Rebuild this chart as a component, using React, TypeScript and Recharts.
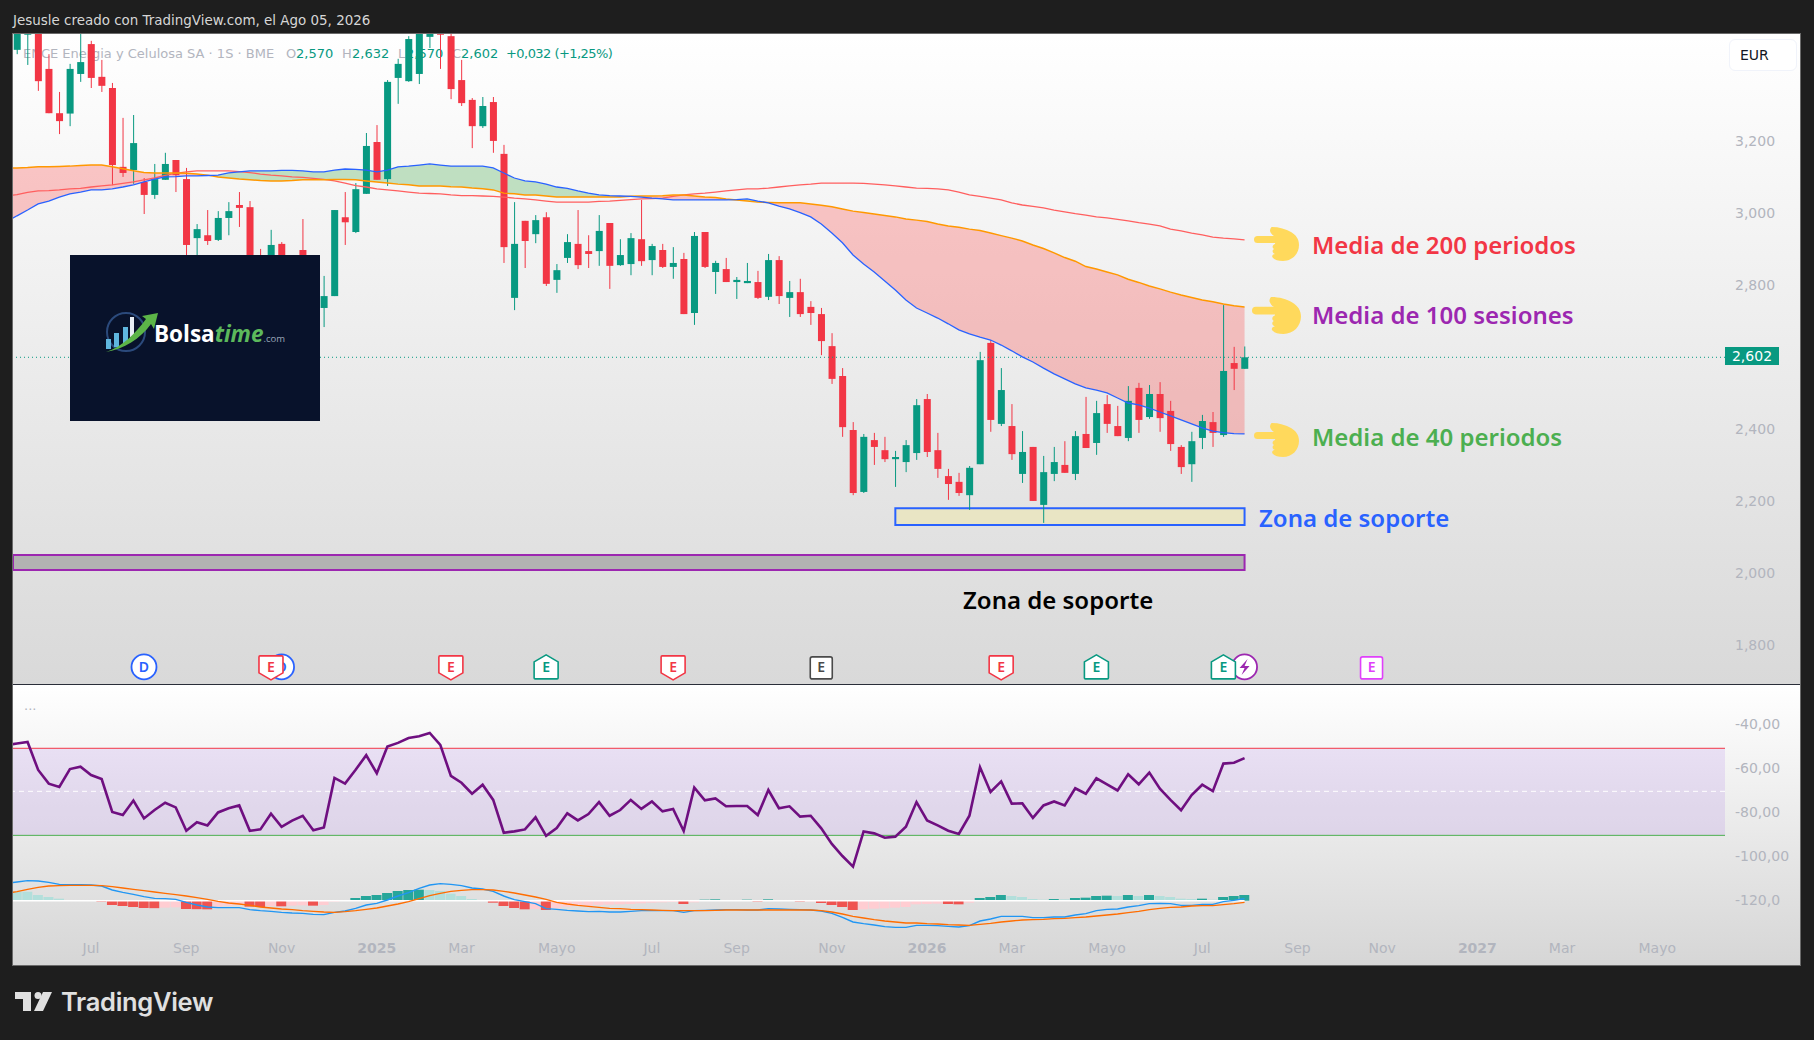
import { ComposedChart, Bar, Line, Area, Scatter, Cell, XAxis, YAxis, ReferenceArea, ReferenceLine } from "recharts";

const opens = [
  3.456,3.498,3.56,3.403,3.28,3.279,3.389,3.472,3.381,3.35,
  3.131,3.122,3.089,3.053,3.095,3.15,3.097,2.933,2.941,2.928,
  2.989,3.025,3.019,2.87,2.78,2.917,2.82,2.9,2.78,2.739,
  2.772,2.991,2.95,3.056,3.2,3.097,3.378,3.369,3.389,3.492,
  3.56,3.494,3.372,3.317,3.244,3.311,3.167,2.767,2.981,2.944,
  2.991,2.817,2.878,2.917,2.897,2.897,2.975,2.858,2.861,2.93,
  2.872,2.9,2.853,2.875,2.725,2.95,2.839,2.847,2.811,2.808,
  2.811,2.77,2.872,2.767,2.783,2.742,2.722,2.633,2.55,2.4,
  2.228,2.372,2.344,2.319,2.311,2.336,2.486,2.344,2.272,2.256,
  2.219,2.305,2.642,2.417,2.411,2.278,2.353,2.192,2.278,2.303,
  2.278,2.389,2.364,2.472,2.411,2.378,2.517,2.436,2.5,2.453,
  2.353,2.305,2.378,2.422,2.386,2.586,2.57,
];
const highs = [
  3.56,3.6,3.6,3.444,3.339,3.417,3.5,3.481,3.428,3.364,
  3.267,3.275,3.1,3.139,3.17,3.15,3.128,2.972,3.011,3.008,
  3.033,3.061,3.036,2.903,2.956,2.922,2.85,2.986,2.82,2.828,
  3.011,3.061,3.086,3.225,3.247,3.372,3.431,3.494,3.55,3.55,
  3.58,3.5,3.428,3.322,3.325,3.325,3.192,3.033,2.981,2.997,
  3.005,2.861,2.944,3.011,2.941,2.997,2.975,2.93,2.947,3.039,
  2.917,2.917,2.908,2.892,2.95,2.95,2.87,2.878,2.825,2.864,
  2.842,2.889,2.883,2.814,2.82,2.758,2.739,2.669,2.572,2.422,
  2.389,2.392,2.381,2.342,2.372,2.486,2.5,2.392,2.292,2.281,
  2.3,2.617,2.65,2.572,2.472,2.397,2.353,2.328,2.353,2.369,
  2.397,2.492,2.481,2.497,2.467,2.522,2.531,2.525,2.533,2.481,
  2.358,2.395,2.442,2.45,2.747,2.631,2.632,
];
const lows = [
  3.444,3.414,3.342,3.28,3.222,3.244,3.367,3.35,3.339,3.08,
  3.103,3.084,3.0,3.042,3.095,3.061,2.88,2.88,2.914,2.925,
  2.941,2.964,2.76,2.76,2.75,2.79,2.72,2.74,2.69,2.686,
  2.772,2.914,2.947,3.056,3.095,3.078,3.306,3.367,3.361,3.461,
  3.403,3.319,3.3,3.183,3.239,3.17,2.864,2.733,2.85,2.919,
  2.8,2.781,2.864,2.847,2.85,2.856,2.792,2.856,2.83,2.856,
  2.83,2.85,2.82,2.722,2.692,2.85,2.778,2.811,2.764,2.808,
  2.764,2.761,2.75,2.714,2.714,2.692,2.608,2.528,2.381,2.219,
  2.225,2.303,2.311,2.242,2.283,2.317,2.325,2.267,2.206,2.217,
  2.178,2.305,2.395,2.411,2.317,2.253,2.203,2.142,2.258,2.281,
  2.261,2.35,2.331,2.392,2.383,2.369,2.392,2.431,2.395,2.342,
  2.278,2.256,2.347,2.353,2.381,2.511,2.57,
];
const closes = [
  3.53,3.55,3.369,3.28,3.258,3.403,3.422,3.378,3.356,3.136,
  3.114,3.197,3.053,3.097,3.139,3.108,2.914,2.958,2.925,2.989,
  3.008,3.017,2.78,2.8,2.914,2.82,2.75,2.78,2.72,2.772,
  3.011,2.977,3.069,3.189,3.095,3.367,3.417,3.486,3.52,3.52,
  3.498,3.347,3.308,3.244,3.3,3.203,2.908,2.917,2.925,2.983,
  2.806,2.844,2.922,2.858,2.889,2.953,2.856,2.886,2.933,2.869,
  2.911,2.853,2.864,2.722,2.939,2.853,2.864,2.811,2.817,2.814,
  2.767,2.872,2.772,2.783,2.722,2.725,2.647,2.542,2.408,2.225,
  2.381,2.353,2.319,2.325,2.358,2.469,2.339,2.292,2.25,2.225,
  2.295,2.594,2.428,2.511,2.333,2.339,2.203,2.283,2.311,2.281,
  2.383,2.35,2.447,2.417,2.383,2.481,2.428,2.5,2.433,2.361,
  2.297,2.369,2.425,2.392,2.564,2.57,2.602,
];

// moving averages, first value is the bar just left of the frame
const ma40 = [
  2.978,2.995,3.011,3.028,3.036,3.047,3.056,3.061,3.067,3.067,3.07,
  3.075,3.081,3.089,3.097,3.103,3.104,3.106,3.106,3.107,3.108,
  3.114,3.117,3.12,3.12,3.12,3.121,3.121,3.12,3.117,3.117,
  3.122,3.125,3.124,3.122,3.117,3.122,3.131,3.133,3.136,3.139,
  3.136,3.133,3.133,3.133,3.133,3.128,3.114,3.1,3.092,3.089,
  3.083,3.075,3.071,3.064,3.058,3.053,3.051,3.05,3.049,3.047,
  3.044,3.042,3.039,3.039,3.039,3.039,3.039,3.039,3.04,3.042,
  3.036,3.031,3.022,3.014,3.004,2.992,2.972,2.947,2.92,2.886,
  2.861,2.839,2.814,2.789,2.761,2.739,2.725,2.711,2.695,2.678,
  2.667,2.658,2.65,2.636,2.62,2.603,2.589,2.572,2.556,2.542,
  2.528,2.517,2.511,2.503,2.489,2.475,2.47,2.461,2.45,2.439,
  2.428,2.417,2.406,2.397,2.393,2.39,2.389,
];
const ma100 = [
  3.127,3.128,3.129,3.131,3.131,3.132,3.133,3.135,3.136,3.136,3.131,
  3.126,3.12,3.115,3.114,3.114,3.114,3.113,3.111,3.108,3.103,
  3.1,3.097,3.095,3.093,3.092,3.092,3.093,3.095,3.095,3.095,
  3.096,3.096,3.095,3.092,3.089,3.086,3.083,3.081,3.078,3.078,
  3.078,3.076,3.075,3.072,3.07,3.067,3.058,3.056,3.053,3.053,
  3.05,3.047,3.047,3.047,3.047,3.047,3.047,3.047,3.049,3.05,
  3.05,3.051,3.053,3.053,3.05,3.047,3.046,3.042,3.039,3.036,
  3.033,3.032,3.031,3.031,3.031,3.028,3.024,3.02,3.014,3.008,
  3.004,3.0,2.996,2.992,2.986,2.983,2.979,2.972,2.967,2.963,
  2.958,2.954,2.947,2.94,2.933,2.925,2.914,2.904,2.892,2.879,
  2.869,2.854,2.847,2.839,2.831,2.819,2.81,2.8,2.792,2.783,
  2.775,2.768,2.761,2.756,2.75,2.745,2.742,
];
const ma200 = [
  3.05,3.054,3.06,3.064,3.065,3.067,3.07,3.071,3.075,3.078,3.081,
  3.085,3.089,3.095,3.1,3.107,3.113,3.117,3.12,3.12,3.12,
  3.12,3.118,3.115,3.111,3.108,3.106,3.103,3.102,3.099,3.096,
  3.092,3.086,3.079,3.075,3.07,3.067,3.064,3.061,3.058,3.057,
  3.056,3.053,3.051,3.051,3.05,3.049,3.047,3.044,3.042,3.039,
  3.036,3.033,3.033,3.033,3.033,3.035,3.036,3.038,3.04,3.042,
  3.043,3.044,3.049,3.053,3.056,3.058,3.061,3.064,3.067,3.07,
  3.07,3.072,3.075,3.078,3.081,3.083,3.086,3.086,3.086,3.086,
  3.085,3.083,3.081,3.078,3.075,3.072,3.071,3.07,3.067,3.061,
  3.053,3.049,3.044,3.039,3.031,3.025,3.021,3.017,3.011,3.006,
  3.001,2.997,2.992,2.989,2.985,2.981,2.976,2.972,2.967,2.958,
  2.953,2.947,2.942,2.936,2.933,2.931,2.928,
];

// lower pane, first value again sits just left of the frame
const rsi = [
  -49.6,-48.9,-48.2,-60.9,-67.1,-68.6,-60.5,-59.4,-63.2,-65,-80,
  -81.4,-74.8,-82.9,-79.1,-75.8,-77.9,-88.5,-84.6,-86.1,-80.2,
  -78.3,-77,-88.5,-87.9,-80.8,-86.7,-83.9,-81.7,-88.3,-87,
  -64.5,-67.1,-60.8,-54.2,-62.4,-50.3,-48.6,-46.4,-45.6,-44.1,
  -49.5,-63.6,-66.7,-71.7,-67.6,-74.5,-89.4,-88.8,-87.9,-82.4,
  -90.8,-87.3,-80.6,-83.8,-80.9,-75.5,-81.7,-79.1,-74.5,-78.6,
  -75.2,-79.7,-78.6,-88.6,-68.9,-74.7,-73.8,-77.4,-77.3,-77.3,
  -81.4,-70,-78.3,-77.4,-82.1,-81.7,-87.4,-94.5,-100,-104.8,
  -88.8,-89.7,-91.7,-91.2,-86.7,-75.5,-83.8,-86.1,-88.5,-90,
  -81.7,-59.7,-70.9,-66.1,-76.2,-76.1,-82.7,-77,-75.2,-77,
  -69.2,-71.7,-64.7,-67.4,-70.2,-62.9,-67.4,-62.1,-69.4,-74.5,
  -79.2,-72.3,-67.6,-70.5,-58,-57.6,-55.5,
];
const macdLine = [
  52,56,60,59,55,49,48,48,47,44,32,
  25,19,12,7,6,4,-5,-13,-19,-21,
  -21,-21,-27,-30,-32,-35,-37,-38,-41,-42,
  -35,-31,-23,-13,-8,2,14,24,37,47,
  51,49,45,38,35,28,14,3,-3,-9,
  -24,-26,-29,-31,-33,-32,-34,-34,-32,-30,
  -30,-30,-30,-35,-30,-29,-28,-27,-27,-28,
  -28,-24,-25,-26,-27,-28,-31,-38,-50,-64,
  -69,-73,-78,-80,-80,-74,-74,-75,-77,-79,
  -75,-61,-55,-47,-47,-47,-51,-51,-49,-49,
  -43,-39,-30,-26,-25,-19,-15,-9,-8,-9,
  -14,-14,-11,-11,-3,1,6,
];
const macdSignal = [
  22,27,34,40,44,45,46,46,46,45,42,
  38,34,30,26,22,18,14,9,4,-2,
  -7,-10,-14,-19,-22,-25,-27,-30,-32,-34,
  -35,-33,-30,-26,-22,-16,-10,-3,6,15,
  22,28,31,33,33,32,28,23,17,11,
  4,-5,-10,-14,-17,-20,-23,-24,-26,-27,
  -28,-29,-30,-30,-30,-30,-29,-28,-28,-28,
  -28,-28,-28,-28,-28,-28,-30,-34,-40,-47,
  -52,-57,-61,-64,-67,-67,-69,-70,-72,-73,
  -74,-71,-68,-64,-61,-58,-57,-56,-54,-53,
  -51,-49,-46,-43,-40,-36,-32,-27,-23,-20,
  -19,-16,-15,-15,-12,-9,-5,
];
const macdHist = [
  27,27,17,11,6,2,1,1,-3,-13,
  -16,-19,-22,-22.5,-21,-20,-25,-25.5,-26,-18,
  -15,-13,-18,-19,-16,-17,-15,-14,-15,-13,
  -3,2,8,14,17,23,29,32,33,32,
  29,21,14,5,1,-6,-16,-22,-26,-25,
  -28,-23,-18,-16,-15,-13,-12,-11,-10,-8,
  -6,-5,-4,-10,-5,3,4,2,1,3,
  -3,4,1,1,-3,-2.5,-7,-13,-19,-28,
  -26,-24,-23,-21,-19,-11,-10,-9,-10,-11,
  -6,8,11,17,14,11,5,3,5,4,
  8,9,14,15,14,17,14,17,14,11,
  6,5,6,3,11,14,17,
];

const priceTicks = [1.8, 2.0, 2.2, 2.4, 2.8, 3.0, 3.2];
const rsiTicks = [-40, -60, -80, -100, -120];
const timeTicks = [7, 16, 25, 34, 42, 51, 60, 68, 77, 86, 94, 103, 112, 121, 129, 138, 146, 155];
const timeLabels = ["Jul", "Sep", "Nov", "2025", "Mar", "Mayo", "Jul", "Sep", "Nov", "2026", "Mar", "Mayo", "Jul", "Sep", "Nov", "2027", "Mar", "Mayo"];

const eventBars = [12, 25, 24, 41, 50, 62, 76, 93, 102, 116, 114, 128];
const eventKinds = ["div", "div", "miss", "miss", "beat", "miss", "flat", "miss", "beat", "split", "beat", "next"];

const lastClose = 2.602;
const barSpan = [-0.378, 161.4];
const priceSpan = [1.6945, 3.5];
const rsiSpan = [-149.5, -22.3];
const macdSpan = [-193, 647];

const UP = "#089981";
const DOWN = "#f23645";
const AXIS_TEXT = "#b2b5be";
const FONT = "'DejaVu Sans', sans-serif";

const bars = opens.map((o, i) => ({
  i,
  o,
  h: highs[i],
  l: lows[i],
  c: closes[i],
  range: [lows[i], highs[i]],
  ma40: ma40[i + 1],
  ma100: ma100[i + 1],
  ma200: ma200[i + 1],
  redBand: [ma40[i + 1], Math.max(ma40[i + 1], ma100[i + 1])],
  greenBand: [ma100[i + 1], Math.max(ma40[i + 1], ma100[i + 1])],
}));
const mainRows = [
  {
    i: -1,
    ma40: ma40[0],
    ma100: ma100[0],
    ma200: ma200[0],
    redBand: [ma40[0], ma100[0]],
    greenBand: [ma100[0], ma100[0]],
  },
  ...bars,
];
const lowerRows = rsi.map((v, n) => ({
  i: n - 1,
  rsi: v,
  macd: macdLine[n],
  signal: macdSignal[n],
  hist: n > 0 ? macdHist[n - 1] : undefined,
}));
const events = eventBars.map((i, n) => ({ i, y: 1.742, kind: eventKinds[n] }));

function histColor(i: number) {
  if (i < 0) return "none";
  const v = macdHist[i];
  const prev = i > 0 ? macdHist[i - 1] : v;
  if (v >= 0) return v > prev ? "#26a69a" : "#b2dfdb";
  return v < prev ? "#ef5350" : "#ffcdd2";
}

function Candle(props: any) {
  const { x, width, y, height, payload } = props;
  if (payload.o == null || !height) return null;
  const perUnit = height / (payload.h - payload.l);
  const top = y + (payload.h - Math.max(payload.o, payload.c)) * perUnit;
  const bottom = y + (payload.h - Math.min(payload.o, payload.c)) * perUnit;
  const color = payload.c >= payload.o ? UP : DOWN;
  const mid = x + width / 2;
  return (
    <g>
      <line x1={mid} x2={mid} y1={y} y2={y + height} stroke={color} strokeWidth={1} />
      <rect x={x} y={top} width={width} height={Math.max(bottom - top, 1)} fill={color} />
    </g>
  );
}

const badgeLook: any = {
  div: { color: "#2962ff", label: "D" },
  miss: { color: DOWN, label: "E" },
  beat: { color: UP, label: "E" },
  flat: { color: "#4a4a4a", label: "E" },
  next: { color: "#e040fb", label: "E" },
  split: { color: "#9c27b0", label: "" },
};

function EventBadge(props: any) {
  const { cx, cy, payload } = props;
  const look = badgeLook[payload.kind];
  let outline;
  if (payload.kind === "div" || payload.kind === "split") {
    outline = <circle cx={cx} cy={cy} r={12.5} fill="#fff" stroke={look.color} strokeWidth={1.8} />;
  } else if (payload.kind === "miss") {
    outline = (
      <path
        d={`M${cx - 11} ${cy - 11}h22a1 1 0 0 1 1 1v16l-12 7l-12 -7v-16a1 1 0 0 1 1 -1z`}
        fill="#fff"
        stroke={look.color}
        strokeWidth={1.6}
      />
    );
  } else if (payload.kind === "beat") {
    outline = (
      <path
        d={`M${cx - 11} ${cy + 12}h22a1 1 0 0 0 1 -1v-16l-12 -7l-12 7v16a1 1 0 0 0 1 1z`}
        fill="#fff"
        stroke={look.color}
        strokeWidth={1.6}
      />
    );
  } else {
    outline = <rect x={cx - 11} y={cy - 10} width={22} height={22} rx={2} fill="#fff" stroke={look.color} strokeWidth={1.6} />;
  }
  return (
    <g>
      {outline}
      {payload.kind === "split" ? (
        <path d={`M${cx + 3} ${cy - 8}l-8 9h5l-3 7l8 -9h-5z`} fill={look.color} />
      ) : (
        <text x={cx} y={cy + 1} textAnchor="middle" dominantBaseline="middle" fontSize={14} fontWeight={600} fontFamily="'Noto Sans', sans-serif" fill={look.color}>
          {look.label}
        </text>
      )}
    </g>
  );
}

function PriceTick(props: any) {
  const { y, payload } = props;
  return (
    <text x={1722} y={y} dy={4} fontSize={14} fill={AXIS_TEXT} fontFamily={FONT}>
      {payload.value.toFixed(3).replace(".", ",")}
    </text>
  );
}

function RsiTick(props: any) {
  const { y, payload } = props;
  const label = payload.value === -120 ? "-120,0" : `-${Math.abs(payload.value)},00`;
  return (
    <text x={1722} y={y} dy={5} fontSize={14} fill={AXIS_TEXT} fontFamily={FONT}>
      {label}
    </text>
  );
}

function TimeTick(props: any) {
  const { x, payload } = props;
  const label = timeLabels[timeTicks.indexOf(payload.value)];
  const isYear = label && label.startsWith("20");
  return (
    <text x={x} y={263} dy={5} textAnchor="middle" fontSize={14} fontWeight={isYear ? 700 : 400} fill={AXIS_TEXT} fontFamily={FONT}>
      {label}
    </text>
  );
}

function Hand({ left, top, w, h }: { left: number; top: number; w: number; h: number }) {
  return (
    <svg style={{ position: "absolute", left, top }} width={w} height={h} viewBox="0 0 45 34">
      <g fill="#ffd95c">
        <rect x={0} y={9} width={26} height={7} rx={3.5} />
        <path d="M18 0c7 0 14 2 19 5c5 3 8 7 8 13c0 9-7 16-16 16c-5 0-8-1-10-3c-2-2 0-4 2-4c-3-1-3-4-1-5c-2-1-2-4 1-5l1-7c-3-1-5-3-6-6c0-2 1-4 2-4z" />
      </g>
    </svg>
  );
}

function Note({ x, y, color, size = 24, children }: any) {
  return (
    <div
      style={{
        position: "absolute",
        left: x,
        top: y - 20,
        height: 40,
        lineHeight: "40px",
        color,
        fontFamily: "'Noto Sans', sans-serif",
        fontSize: size,
        fontWeight: 600,
        whiteSpace: "nowrap",
      }}
    >
      {children}
    </div>
  );
}

function Abs({ x, y, color, children, size = 13, spacing = 0 }: any) {
  return (
    <span style={{ position: "absolute", left: x, top: y - 10, height: 20, lineHeight: "20px", color, fontSize: size, letterSpacing: spacing, fontFamily: FONT, whiteSpace: "nowrap" }}>
      {children}
    </span>
  );
}

function BolsaLogo() {
  return (
    <div style={{ position: "absolute", left: 70, top: 255, width: 250, height: 166, background: "#08122b" }}>
      <svg style={{ position: "absolute", left: 0, top: 0 }} width={250} height={166}>
        <circle cx={56} cy={77} r={19} fill="none" stroke="#2b4a7c" strokeWidth={2} />
        <rect x={36} y={84} width={5} height={10} fill="#5fb6df" />
        <rect x={44} y={78} width={5} height={14} fill="#5fb6df" />
        <rect x={53} y={72} width={5} height={16} fill="#5fb6df" />
        <rect x={60} y={62} width={4} height={20} fill="#e8eef4" />
        <path d="M36 97 C52 92 66 78 76 64 L72 61 L88 58 L84 74 L81 69 C70 84 54 94 36 97z" fill="#5cb548" />
      </svg>
      <div style={{ position: "absolute", left: 84, top: 65, fontFamily: "'Open Sans', sans-serif", fontSize: 22.5, lineHeight: "28px", whiteSpace: "nowrap", fontWeight: 700, color: "#fff" }}>
        Bolsa
        <span style={{ color: "#5cb85c", fontStyle: "italic", fontWeight: 700 }}>time</span>
        <span style={{ fontSize: 9.5, color: "#9aa6b8", fontWeight: 400 }}>.com</span>
      </div>
    </div>
  );
}

export default function App() {
  return (
    <div style={{ position: "absolute", left: 0, top: 0, width: 1814, height: 1040, background: "#1e1e1e", overflow: "hidden" }}>
      <Abs x={13} y={21} color="#d6d6d6" size={13.45}>
        Jesusle creado con TradingView.com, el Ago 05, 2026
      </Abs>

      <div style={{ position: "absolute", left: 12, top: 33, width: 1789, height: 933, border: "1px solid #6a6a6a", boxSizing: "border-box" }} />
      <div style={{ position: "absolute", left: 13, top: 34, width: 1787, height: 650, background: "linear-gradient(#ffffff, #d9d9d9)" }} />
      <div style={{ position: "absolute", left: 13, top: 685, width: 1787, height: 280, background: "linear-gradient(#ffffff, #d6d6d6)" }} />
      <div style={{ position: "absolute", left: 13, top: 684, width: 1787, height: 1, background: "#2a2e39" }} />

      <Abs x={23} y={54} color={AXIS_TEXT}>ENCE Energia y Celulosa SA · 1S · BME</Abs>
      <Abs x={286} y={54} color={AXIS_TEXT}>O</Abs>
      <Abs x={296} y={54} color={UP}>2,570</Abs>
      <Abs x={342} y={54} color={AXIS_TEXT}>H</Abs>
      <Abs x={352} y={54} color={UP}>2,632</Abs>
      <Abs x={398} y={54} color={AXIS_TEXT}>L</Abs>
      <Abs x={406} y={54} color={UP}>2,570</Abs>
      <Abs x={452} y={54} color={AXIS_TEXT}>C</Abs>
      <Abs x={461} y={54} color={UP}>2,602</Abs>
      <Abs x={506} y={54} color={UP} spacing={-0.55}>+0,032 (+1,25%)</Abs>
      <Abs x={24} y={706} color={AXIS_TEXT}>...</Abs>

      <div style={{ position: "absolute", left: 13, top: 34 }}>
        <ComposedChart width={1787} height={650} data={mainRows} margin={{ top: 0, right: 0, bottom: 0, left: 0 }}>
          <XAxis dataKey="i" type="number" domain={barSpan} allowDataOverflow hide />
          <YAxis
            orientation="right"
            width={75}
            domain={priceSpan}
            ticks={priceTicks}
            allowDataOverflow
            axisLine={false}
            tickLine={false}
            tick={<PriceTick />}
            interval={0}
          />
          <ReferenceLine y={lastClose} stroke={UP} strokeDasharray="1 3" />
          <ReferenceArea x1={83} x2={116} y1={2.136} y2={2.183} fill="#e9e5c4" fillOpacity={1} stroke="#2962ff" strokeWidth={2} />
          <ReferenceArea x1={barSpan[0]} x2={116} y1={2.011} y2={2.053} fill="#b2b2b2" fillOpacity={1} stroke="#9c27b0" strokeWidth={2} />
          <Bar dataKey="range" barSize={7} shape={<Candle />} isAnimationActive={false} />
          <Area dataKey="redBand" stroke="none" fill="#ff3b3b" fillOpacity={0.27} dot={false} activeDot={false} isAnimationActive={false} />
          <Area dataKey="greenBand" stroke="none" fill="#4caf50" fillOpacity={0.32} dot={false} activeDot={false} isAnimationActive={false} />
          <Line dataKey="ma200" stroke="#ff5f5f" strokeWidth={1.3} dot={false} activeDot={false} isAnimationActive={false} />
          <Line dataKey="ma100" stroke="#ff9800" strokeWidth={1.5} dot={false} activeDot={false} isAnimationActive={false} />
          <Line dataKey="ma40" stroke="#2962ff" strokeWidth={1.3} dot={false} activeDot={false} isAnimationActive={false} />
          <Scatter data={events} dataKey="y" shape={<EventBadge />} isAnimationActive={false} />
        </ComposedChart>
      </div>

      <div style={{ position: "absolute", left: 13, top: 685 }}>
        <ComposedChart width={1787} height={281} data={lowerRows} margin={{ top: 0, right: 0, bottom: 0, left: 0 }}>
          <XAxis
            dataKey="i"
            type="number"
            domain={barSpan}
            allowDataOverflow
            ticks={timeTicks}
            interval={0}
            height={1}
            axisLine={false}
            tickLine={false}
            tick={<TimeTick />}
          />
          <YAxis
            yAxisId="rsi"
            orientation="right"
            width={75}
            domain={rsiSpan}
            ticks={rsiTicks}
            allowDataOverflow
            interval={0}
            axisLine={false}
            tickLine={false}
            tick={<RsiTick />}
          />
          <YAxis yAxisId="macd" hide domain={macdSpan} allowDataOverflow />
          <ReferenceArea yAxisId="rsi" y1={-90.6} y2={-51.05} fill="#7a1ee0" fillOpacity={0.1} stroke="none" />
          <ReferenceLine yAxisId="rsi" y={-51.05} stroke="#f23645" strokeWidth={1} />
          <ReferenceLine yAxisId="rsi" y={-90.6} stroke="#4caf50" strokeWidth={1} />
          <ReferenceLine yAxisId="rsi" y={-70.6} stroke="#ffffff" strokeDasharray="5 4" strokeWidth={1} />
          <ReferenceLine
            yAxisId="macd"
            stroke="#ffffff"
            strokeWidth={1.5}
            segment={[{ x: barSpan[0], y: 0 }, { x: 116, y: 0 }]}
          />
          <Bar yAxisId="macd" dataKey="hist" barSize={10} isAnimationActive={false}>
            {lowerRows.map((row) => (
              <Cell key={row.i} fill={histColor(row.i)} />
            ))}
          </Bar>
          <Line yAxisId="macd" dataKey="macd" stroke="#2196f3" strokeWidth={1.4} dot={false} activeDot={false} isAnimationActive={false} />
          <Line yAxisId="macd" dataKey="signal" stroke="#ff6d00" strokeWidth={1.4} dot={false} activeDot={false} isAnimationActive={false} />
          <Line yAxisId="rsi" dataKey="rsi" stroke="#6f0f80" strokeWidth={2.6} dot={false} activeDot={false} isAnimationActive={false} />
        </ComposedChart>
      </div>

      <BolsaLogo />

      <div style={{ position: "absolute", left: 1729, top: 39, width: 68, height: 32, background: "#fff", border: "1px solid #f0f3fa", borderRadius: 6, boxSizing: "border-box" }} />
      <Abs x={1740} y={55} color="#131722" size={14}>EUR</Abs>

      <div style={{ position: "absolute", left: 1725, top: 347, width: 54, height: 18, background: UP, color: "#fff", fontSize: 14, lineHeight: "19px", textAlign: "center", fontFamily: FONT }}>
        2,602
      </div>

      <Hand left={1254} top={227} w={45} h={34} />
      <Hand left={1252} top={297} w={49} h={37} />
      <Hand left={1254} top={423} w={45} h={34} />
      <Note x={1312} y={245} color="#f23645">Media de 200 periodos</Note>
      <Note x={1312} y={315} color="#9c27b0">Media de 100 sesiones</Note>
      <Note x={1312} y={437} color="#4caf50">Media de 40 periodos</Note>
      <Note x={1259} y={518} color="#2962ff">Zona de soporte</Note>
      <Note x={963} y={600} color="#000000">Zona de soporte</Note>

      <svg style={{ position: "absolute", left: 15, top: 992 }} width={38} height={20} viewBox="0 0 38 20">
        <path d="M0 0h16v19h-8v-12h-8z" fill="#e0e0e0" />
        <circle cx={23} cy={3.5} r={3.5} fill="#e0e0e0" />
        <path d="M28 0h9l-9 19h-9z" fill="#e0e0e0" />
      </svg>
      <div style={{ position: "absolute", left: 61, top: 986, fontFamily: "Inter, sans-serif", fontSize: 25.5, lineHeight: "32px", fontWeight: 600, color: "#e0e0e0", letterSpacing: -0.3 }}>
        TradingView
      </div>
    </div>
  );
}
